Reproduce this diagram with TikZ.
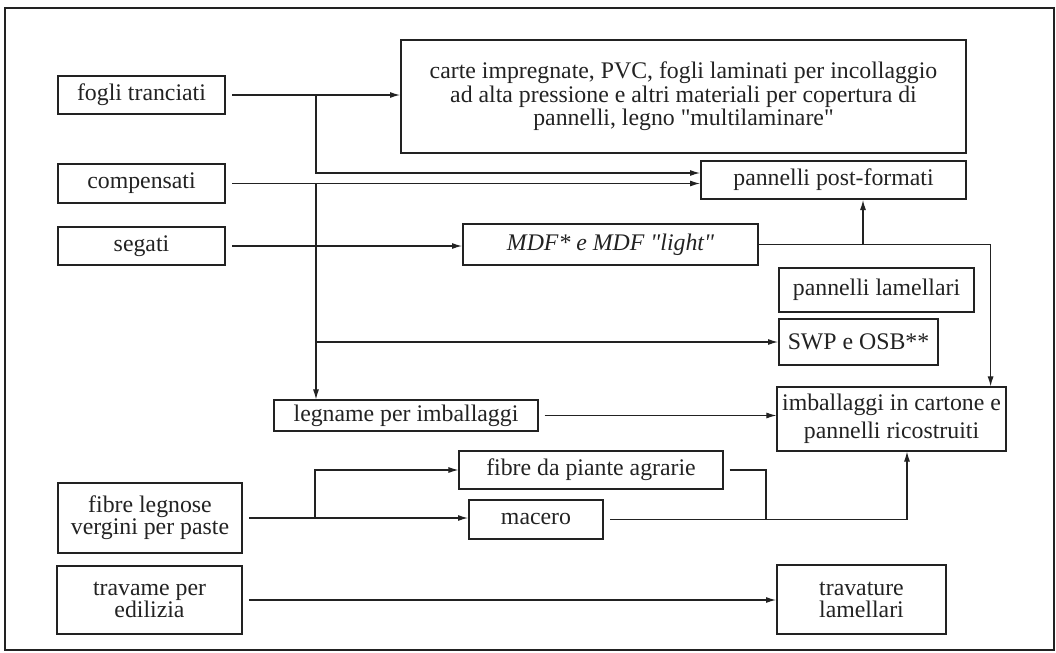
\documentclass[tikz,border=0pt]{standalone}
\usepackage{fontspec}
\setmainfont{Liberation Serif}
\usetikzlibrary{calc,positioning,arrows.meta}
\definecolor{color_ink}{HTML}{222222}

\begin{document}
\begin{tikzpicture}[x=0.5pt,y=-0.5pt,color_ink,
		every node/.style={font=\fontsize{11.9}{11}\selectfont,align=center,inner sep=0pt},
		boxthick/.style={draw,line width=1pt},
		boxthin/.style={draw,line width=0.6pt},
		link/.style={line width=0.55pt},
		gap/.style={shorten <=3pt},
		arr/.style={link,-{Latex[length=5pt,width=3pt]}}]
	\useasboundingbox (0,0) rectangle (1056,653);
	% Frame
	\draw[line width=0.8pt] (5,8) rectangle (1054,650);

	% Sources
	\node[boxthick,minimum width=83.5pt,minimum height=19pt] (ft) at (141.5,95) {fogli tranciati};
	\node[boxthick,minimum width=83.5pt,minimum height=19.5pt] (cs) at (141.5,183.5) {compensati};
	\node[boxthick,minimum width=83.5pt,minimum height=19pt] (sg) at (141.5,246) {segati};
	\node[boxthick,minimum width=92pt,minimum height=35pt] (fl) at (150,518) {fibre legnose\\vergini per paste};
	\node[boxthick,minimum width=92.5pt,minimum height=34pt] (te) at (149.5,600) {travame per\\edilizia};

	% Products
	\node[boxthick,minimum width=282.5pt,minimum height=56.5pt,
		font=\fontsize{11.9}{10.5}\selectfont] (cp) at (683.5,96.5)
		{carte impregnate, PVC, fogli laminati per incollaggio\\
		 ad alta pressione e altri materiali per copertura di\\
		 pannelli, legno \textquotedbl multilaminare\textquotedbl};
	\node[boxthick,minimum width=132.5pt,minimum height=19pt] (pf) at (833.5,180) {pannelli post-formati};
	\node[boxthick,minimum width=147.5pt,minimum height=20.5pt] (mdf) at (610.5,244.5)
		{\itshape MDF* e MDF \textquotedbl light\textquotedbl};
	\node[boxthick,minimum width=97.5pt,minimum height=22pt] (pl) at (876.5,290) {pannelli lamellari};
	\node[boxthick,minimum width=79.5pt,minimum height=23pt] (swp) at (858.5,342) {SWP e OSB**};
	\node[boxthin,minimum width=114.5pt,minimum height=32pt,
		font=\fontsize{11.9}{14}\selectfont] (ic) at (891.5,419) {imballaggi in cartone e\\pannelli ricostruiti};
	\node[boxthin,minimum width=132pt,minimum height=15.5pt] (li) at (406,415.5) {legname per imballaggi};
	\node[boxthin,minimum width=132pt,minimum height=19pt] (fp) at (591,470) {fibre da piante agrarie};
	\node[boxthick,minimum width=67pt,minimum height=19.5pt] (mc) at (536,519.5) {macero};
	\node[boxthick,minimum width=84.5pt,minimum height=34.5pt] (tl) at (861.5,599.5) {travature\\lamellari};

	% Junctions
	\coordinate (J1) at ($(ft.east)+(90,0)$);
	\coordinate (J2) at ($(cs.east)+(90,0)$);
	\coordinate (J4) at ($(mdf.east)+(104,0)$);
	\coordinate (J5) at ($(fl.east)+(72,0)$);
	\coordinate (J6) at ($(mc.east)+(162,0)$);

	% Connectors
	\draw[arr,gap] (ft.east) -- (ft.east -| cp.west);
	\draw[arr] (J1) |- ($(pf.west)+(0,-7)$);
	\draw[arr,gap] (cs.east) -- (cs.east -| pf.west);
	\draw[arr] (J2) -- (J2 |- li.north);
	\draw[arr] (J2 |- swp.west) -- (swp.west);
	\draw[arr,gap] (sg.east) -- (sg.east -| mdf.west);
	\draw[arr] (mdf.east) -| ($(ic.north east)+(-16,0)$);
	\draw[arr] (J4) -- (J4 |- pf.south);
	\draw[arr,gap] (li.east) -- (li.east -| ic.west);
	\draw[arr,gap] (fl.east) -- (fl.east -| mc.west);
	\draw[arr] (J5) |- (fp.west);
	\draw[link,gap] (fp.east) -| (J6);
	\draw[arr,gap] (mc.east) -| ($(ic.south)+(15.5,0)$);
	\draw[arr,gap] (te.east) -- (te.east -| tl.west);
\end{tikzpicture}
\end{document}
